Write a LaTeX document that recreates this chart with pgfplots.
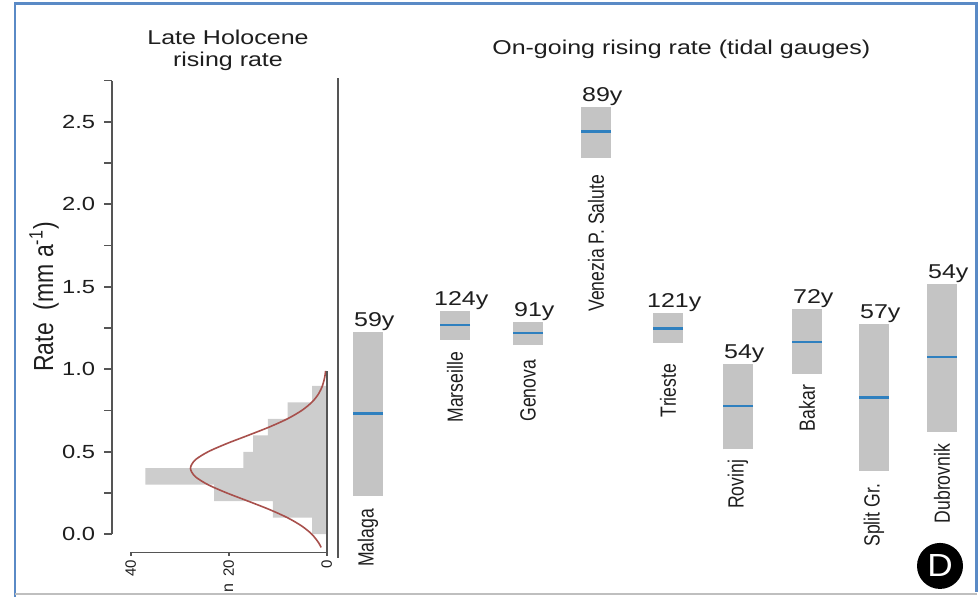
\documentclass[border=0pt]{standalone}
\usepackage{graphicx}
\usepackage{pgfplots}
\pgfplotsset{compat=1.18}
\usepackage{pgfplotstable}
\usepackage{fontspec}
\setmainfont{Liberation Sans}
\definecolor{barg}{HTML}{C4C4C4}
\definecolor{histg}{HTML}{CDCDCD}
\definecolor{meanb}{HTML}{2F80BF}
\definecolor{curvec}{HTML}{A8504C}
\definecolor{axc}{HTML}{555555}
\definecolor{txt}{HTML}{1E1E1E}
\definecolor{frameb}{HTML}{5A8AC6}
\newcommand\tfont{\fontsize{10}{11}\selectfont}
\newcommand\sfont{\fontsize{8.8}{10}\selectfont}
\newcommand\hfont{\fontsize{7.5}{9}\selectfont}
\newcommand\st[1]{\scalebox{1}[1.25]{#1}}

% tidal gauges: x position (px), range low/high, mean, record length
\pgfplotstableread{
x low high mean yrs
368 0.234 1.228 0.733 59
455 1.178 1.355 1.268 124
528 1.147 1.285 1.218 91
596 2.28 2.59 2.44 89
668 1.161 1.339 1.248 121
738 0.515 1.032 0.778 54
807 0.970 1.364 1.167 72
874 0.384 1.275 0.830 57
942 0.622 1.515 1.076 54
}\gauges

% histogram outline: count n, rate r
\pgfplotstableread{
n r
0 0
3 0
3 0.1
11 0.1
11 0.2
23 0.2
23 0.3
37 0.3
37 0.4
17 0.4
17 0.5
15 0.5
15 0.6
12 0.6
12 0.7
8 0.7
8 0.8
3 0.8
3 0.9
0 0.9
}\histo

\pgfplotstableread{
n r
1.14 -0.08
1.68 -0.05
3.03 0
5.10 0.05
7.99 0.1
11.70 0.15
15.98 0.2
20.36 0.25
24.2 0.3
26.85 0.35
27.8 0.4
26.85 0.45
24.2 0.5
20.36 0.55
15.98 0.6
11.70 0.65
7.99 0.7
5.10 0.75
3.03 0.8
1.68 0.85
0.87 0.9
0.42 0.95
0.22 0.99
}\curvetab

\begin{document}
\begin{tikzpicture}
\begin{axis}[scale only axis, width=432pt, height=226.85pt,
 xmin=112, xmax=976, ymin=0, ymax=2.75, clip=false,
 axis x line=none, axis y line*=left,
 axis line style={axc, line width=0.8pt},
 ytick={0,0.5,...,2.5}, yticklabels={0.0,0.5,1.0,1.5,2.0,2.5},
 minor ytick={0.25,0.75,...,2.75},
 tick align=outside, major tick length=4pt, minor tick length=4pt,
 every tick/.style={axc, line width=0.8pt},
 every minor tick/.style={axc, line width=0.8pt},
 yticklabel style={font=\fontsize{9.5}{11}\selectfont, text=txt, xscale=1.25},
]
% page area (invisible)
\path (axis cs:0,3.2382) rectangle (axis cs:979,-0.38);
% frame
\draw[frameb, line width=1.2pt] (axis cs:15,-0.38) -- (axis cs:15,3.2170) -- (axis cs:976.5,3.2170) -- (axis cs:976.5,-0.3497);
\draw[black!25, line width=0.8pt] (axis cs:15,-0.3618) -- (axis cs:977,-0.3618);

% histogram (count axis: px = 326.7 - 4.9 n)
\addplot[fill=histg, draw=none, forget plot] table[x expr=326.7-4.9*\thisrow{n}, y=r] {\histo};
\addplot[curvec, line width=0.8pt, smooth, forget plot] table[x expr=326.7-4.9*\thisrow{n}, y=r] {\curvetab};
\draw[axc, line width=0.8pt] (axis cs:326.7,-0.11) -- (axis cs:326.7,0.99);
\draw[axc, line width=0.8pt] (axis cs:130.7,-0.11) -- (axis cs:326.7,-0.11);
\draw[axc, line width=0.8pt] (axis cs:326.7,-0.11) -- (axis cs:326.7,-0.134);
\draw[axc, line width=0.8pt] (axis cs:228.7,-0.11) -- (axis cs:228.7,-0.134);
\draw[axc, line width=0.8pt] (axis cs:130.7,-0.11) -- (axis cs:130.7,-0.134);
\node[rotate=90, anchor=east, font=\hfont, text=txt, inner sep=1pt] at (axis cs:326.7,-0.143) {0};
\node[rotate=90, anchor=east, font=\hfont, text=txt, inner sep=1pt] at (axis cs:228.7,-0.143) {20};
\node[rotate=90, anchor=east, font=\hfont, text=txt, inner sep=1pt] at (axis cs:130.7,-0.143) {40};
\node[rotate=90, anchor=east, font=\fontsize{8}{9}\selectfont, text=txt, inner sep=1pt] at (axis cs:228.7,-0.285) {n};

% separator
\draw[axc, line width=0.8pt] (axis cs:338,-0.1436) -- (axis cs:338,2.767);

% gauge ranges
\addplot[barg, line width=15pt, forget plot] coordinates {(368,0.234)(368,1.228)};
\addplot[barg, line width=15pt, forget plot] coordinates {(455,1.178)(455,1.355)};
\addplot[barg, line width=15pt, forget plot] coordinates {(528,1.147)(528,1.285)};
\addplot[barg, line width=15pt, forget plot] coordinates {(596,2.28)(596,2.59)};
\addplot[barg, line width=15pt, forget plot] coordinates {(668,1.161)(668,1.339)};
\addplot[barg, line width=15pt, forget plot] coordinates {(738,0.515)(738,1.032)};
\addplot[barg, line width=15pt, forget plot] coordinates {(807,0.970)(807,1.364)};
\addplot[barg, line width=15pt, forget plot] coordinates {(874,0.384)(874,1.275)};
\addplot[barg, line width=15pt, forget plot] coordinates {(942,0.622)(942,1.515)};
\addplot[only marks, mark=-, mark size=7.5pt, mark options={meanb, line width=1.2pt}] table[x=x, y=mean] {\gauges};

% year labels
\node[anchor=base, font=\tfont, text=txt, xscale=1.25] at ([yshift=2.75pt]axis cs:368,1.228) {59\rlap{y}};
\node[anchor=base, font=\tfont, text=txt, xscale=1.25] at ([yshift=2.75pt]axis cs:455,1.355) {124\rlap{y}};
\node[anchor=base, font=\tfont, text=txt, xscale=1.25] at ([yshift=2.75pt]axis cs:528,1.285) {91\rlap{y}};
\node[anchor=base, font=\tfont, text=txt, xscale=1.25] at ([yshift=2.75pt]axis cs:596,2.59) {89\rlap{y}};
\node[anchor=base, font=\tfont, text=txt, xscale=1.25] at ([yshift=2.75pt]axis cs:668,1.339) {121\rlap{y}};
\node[anchor=base, font=\tfont, text=txt, xscale=1.25] at ([yshift=2.75pt]axis cs:738,1.032) {54\rlap{y}};
\node[anchor=base, font=\tfont, text=txt, xscale=1.25] at ([yshift=2.75pt]axis cs:807,1.364) {72\rlap{y}};
\node[anchor=base, font=\tfont, text=txt, xscale=1.25] at ([yshift=2.75pt]axis cs:874,1.275) {57\rlap{y}};
\node[anchor=base, font=\tfont, text=txt, xscale=1.25] at ([yshift=2.75pt]axis cs:942,1.515) {54\rlap{y}};
% station names
\node[font=\sfont, text=txt, rotate=90, anchor=east] at (axis cs:368,0.196) {\st{Malaga}};
\node[font=\sfont, text=txt, rotate=90, anchor=east] at (axis cs:455,1.147) {\st{Marseille}};
\node[font=\sfont, text=txt, rotate=90, anchor=east] at (axis cs:528,1.099) {\st{Genova}};
\node[font=\sfont, text=txt, rotate=90, anchor=east] at (axis cs:596,2.220) {\st{Venezia P. Salute}};
\node[font=\sfont, text=txt, rotate=90, anchor=east] at (axis cs:668,1.075) {\st{Trieste}};
\node[font=\sfont, text=txt, rotate=90, anchor=east] at (axis cs:738,0.493) {\st{Rovinj}};
\node[font=\sfont, text=txt, rotate=90, anchor=east] at (axis cs:807,0.947) {\st{Bakar}};
\node[font=\sfont, text=txt, rotate=90, anchor=east] at (axis cs:874,0.347) {\st{Split Gr.}};
\node[font=\sfont, text=txt, rotate=90, anchor=east] at (axis cs:942,0.590) {\st{Dubrovnik}};

% titles
\node[anchor=base, font=\tfont, text=txt, xscale=1.25] at (axis cs:228,2.9655) {Late Holocene};
\node[anchor=base, font=\tfont, text=txt, xscale=1.25] at (axis cs:228,2.8339) {rising rate};
\node[anchor=base, font=\tfont, text=txt, xscale=1.25] at (axis cs:681.3,2.9048) {On-going rising rate (tidal gauges)};
% y label
\node[font=\fontsize{11.5}{13}\selectfont, text=txt, rotate=90] at (axis cs:44,1.4382) {\scalebox{1}[1.2]{Rate~~(mm a\textsuperscript{-1})}};
% D badge
\fill[black] (axis cs:940,-0.1921) circle[radius=11.5pt];
\node[text=white, font=\fontsize{16}{16}\selectfont, xscale=1.1] at (axis cs:940,-0.1921) {D};
\end{axis}
\end{tikzpicture}
\end{document}
